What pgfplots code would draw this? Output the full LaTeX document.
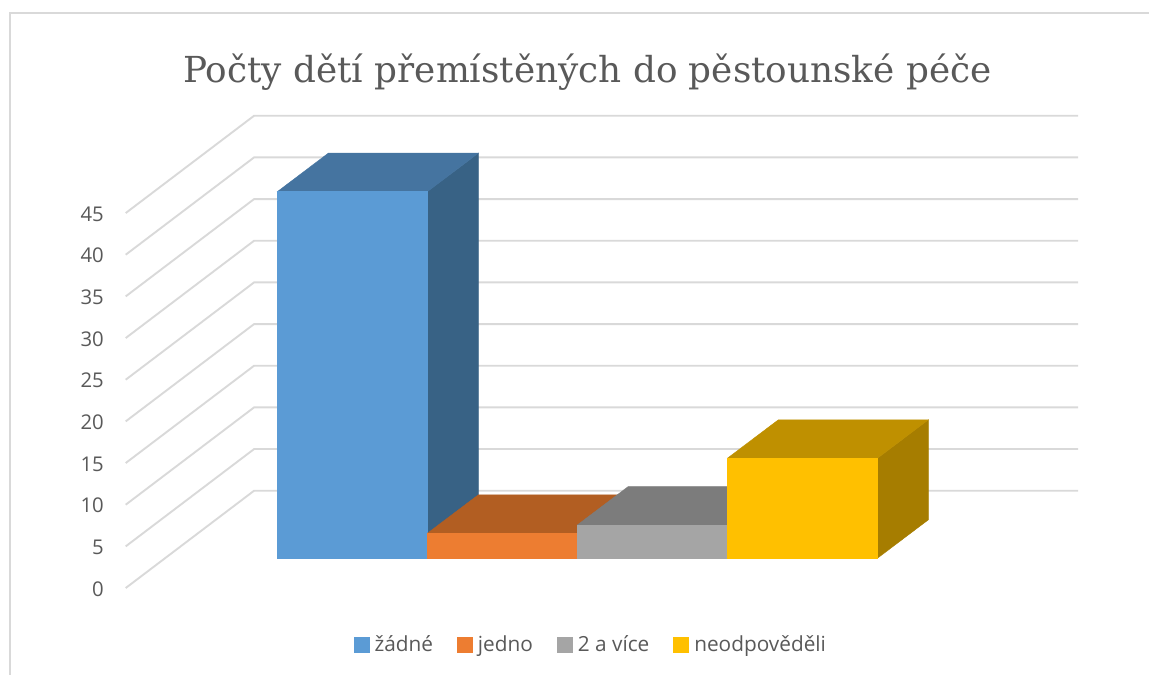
\documentclass[border=0pt]{standalone}
\usepackage{pgfplots}
\pgfplotsset{compat=1.18}
\usepackage{fontspec}
\setmainfont{Open Sans}
\newfontfamily\titlefont{DejaVu Serif}
\definecolor{txt}{HTML}{595959}
\definecolor{gridc}{HTML}{D9D9D9}
\definecolor{bA}{HTML}{5B9BD5}\definecolor{bAt}{HTML}{4574A0}\definecolor{bAs}{HTML}{386285}
\definecolor{bB}{HTML}{ED7D31}\definecolor{bBt}{HTML}{B25E22}\definecolor{bBs}{HTML}{96501E}
\definecolor{bC}{HTML}{A5A5A5}\definecolor{bCt}{HTML}{7C7C7C}\definecolor{bCs}{HTML}{686868}
\definecolor{bD}{HTML}{FFC000}\definecolor{bDt}{HTML}{BF9000}\definecolor{bDs}{HTML}{A67D00}
\begin{document}
\begin{tikzpicture}[x=1pt,y=1pt]
\begin{axis}[
  scale only axis, width=1149pt, height=675pt,
  xmin=-2.349, xmax=5.311, ymin=-14, ymax=67,
  axis line style={draw=none}, tick style={draw=none},
  xtick=\empty,
  ytick={-3.57,1.43,6.43,11.43,16.43,21.43,26.43,31.43,36.43,41.43},
  yticklabels={0,5,10,15,20,25,30,35,40,45},
  yticklabel style={xshift=104pt, yshift=-1pt, inner sep=0pt, font=\fontsize{20.3}{24}\selectfont, text=txt},
  title={\titlefont\fontsize{35.8}{44}\selectfont Počty dětí přemístěných do pěstounské péče},
  title style={at={(0.5112,0.8845)}, anchor=center, text=txt, inner sep=0pt},
  legend style={at={(0.5142,0.0455)}, anchor=center, draw=none, fill=none,
    legend columns=4, font=\fontsize{20.8}{24}\selectfont, text=txt,
    /tikz/every odd column/.append style={column sep=3.5pt},
    /tikz/every even column/.append style={column sep=22pt},
    inner sep=0pt},
  legend cell align=left,
  legend image code/.code={\fill[#1] (0pt,-7.5pt) rectangle (15pt,7.5pt);},
]
% gridlines: side wall and back wall
\addplot[gridc,line width=1.9pt,forget plot] coordinates {(-1.511,-3.57)(-0.655,8.11)(4.838,8.11)};
\addplot[gridc,line width=1.9pt,forget plot] coordinates {(-1.511,1.43)(-0.655,13.11)(4.838,13.11)};
\addplot[gridc,line width=1.9pt,forget plot] coordinates {(-1.511,6.43)(-0.655,18.11)(4.838,18.11)};
\addplot[gridc,line width=1.9pt,forget plot] coordinates {(-1.511,11.43)(-0.655,23.11)(4.838,23.11)};
\addplot[gridc,line width=1.9pt,forget plot] coordinates {(-1.511,16.43)(-0.655,28.11)(4.838,28.11)};
\addplot[gridc,line width=1.9pt,forget plot] coordinates {(-1.511,21.43)(-0.655,33.11)(4.838,33.11)};
\addplot[gridc,line width=1.9pt,forget plot] coordinates {(-1.511,26.43)(-0.655,38.11)(4.838,38.11)};
\addplot[gridc,line width=1.9pt,forget plot] coordinates {(-1.511,31.43)(-0.655,43.11)(4.838,43.11)};
\addplot[gridc,line width=1.9pt,forget plot] coordinates {(-1.511,36.43)(-0.655,48.11)(4.838,48.11)};
\addplot[gridc,line width=1.9pt,forget plot] coordinates {(-1.511,41.43)(-0.655,53.11)(4.838,53.11)};
% žádné = 44
\addplot[fill=bAs,draw=bAs,forget plot] coordinates {(0.5,0)(0.84,4.62)(0.84,48.62)(0.5,44)} --cycle;
\addplot[fill=bAt,draw=bAt,forget plot] coordinates {(-0.5,44)(0.5,44)(0.84,48.62)(-0.16,48.62)} --cycle;
\addplot[ybar,bar width=150pt,bar shift=0pt,fill=bA,draw=bA] coordinates {(0,44)};
\addlegendentry{žádné}
% jedno = 3
\addplot[fill=bBs,draw=bBs,forget plot] coordinates {(1.5,0)(1.84,4.62)(1.84,7.62)(1.5,3)} --cycle;
\addplot[fill=bBt,draw=bBt,forget plot] coordinates {(0.5,3)(1.5,3)(1.84,7.62)(0.84,7.62)} --cycle;
\addplot[ybar,bar width=150pt,bar shift=0pt,fill=bB,draw=bB] coordinates {(1,3)};
\addlegendentry{jedno}
% 2 a více = 4
\addplot[fill=bCs,draw=bCs,forget plot] coordinates {(2.5,0)(2.84,4.62)(2.84,8.62)(2.5,4)} --cycle;
\addplot[fill=bCt,draw=bCt,forget plot] coordinates {(1.5,4)(2.5,4)(2.84,8.62)(1.84,8.62)} --cycle;
\addplot[ybar,bar width=150pt,bar shift=0pt,fill=bC,draw=bC] coordinates {(2,4)};
\addlegendentry{2 a více}
% neodpověděli = 12
\addplot[fill=bDs,draw=bDs,forget plot] coordinates {(3.5,0)(3.84,4.62)(3.84,16.62)(3.5,12)} --cycle;
\addplot[fill=bDt,draw=bDt,forget plot] coordinates {(2.5,12)(3.5,12)(3.84,16.62)(2.84,16.62)} --cycle;
\addplot[ybar,bar width=150pt,bar shift=0pt,fill=bD,draw=bD] coordinates {(3,12)};
\addlegendentry{neodpověděli}
% outer frame of the chart area
\draw[gridc,line width=1.2pt] (rel axis cs:0.0087,0) -- (rel axis cs:0.0087,0.9807) -- (rel axis cs:1,0.9807);
\end{axis}
\end{tikzpicture}
\end{document}
